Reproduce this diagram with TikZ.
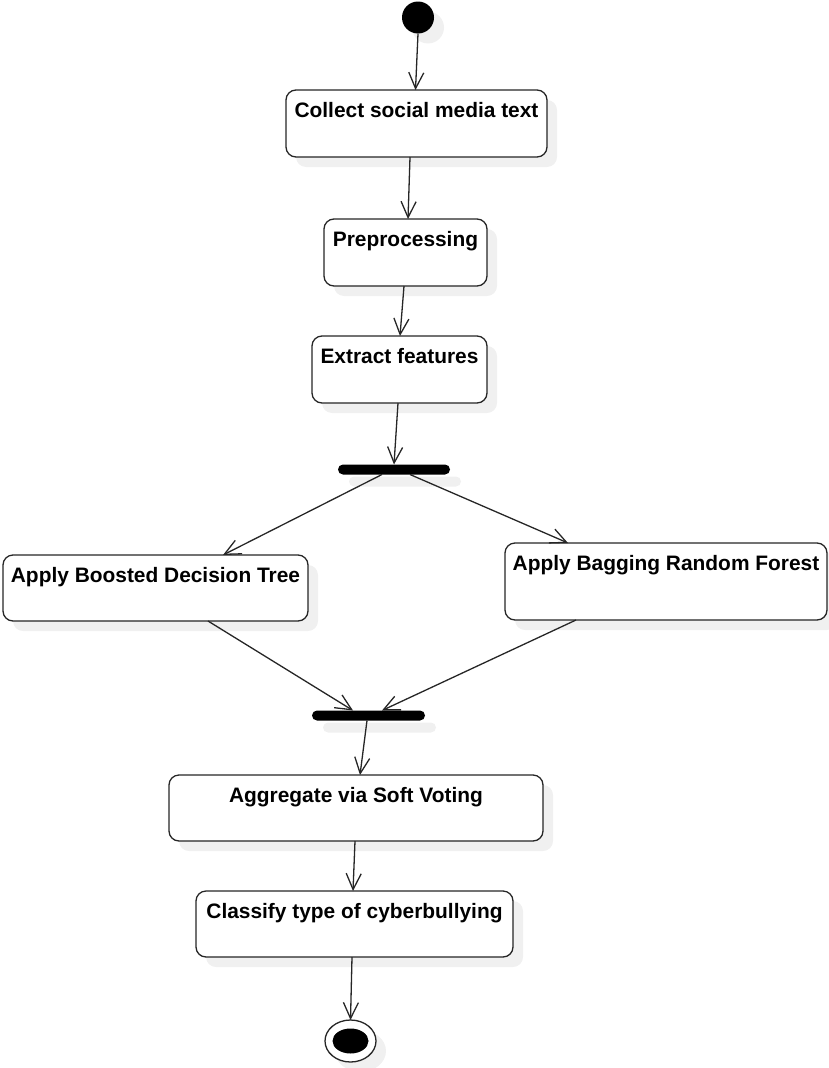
\documentclass[tikz,border=0pt]{standalone}
\usepackage{fontspec}
\setmainfont{Liberation Sans}
\usetikzlibrary{arrows.meta,shadows,shapes.geometric}
\begin{document}
\begin{tikzpicture}[x=1pt,y=-1pt,
  line width=1.3pt,
  softshadow/.style={drop shadow={shadow xshift=10pt,shadow yshift=-10pt,fill=black!6,opacity=1}},
  action/.style={draw=black!85, fill=white, rounded corners=10pt,
    inner xsep=0pt, inner ysep=0pt, outer sep=0pt, text height=27pt,
    font=\fontsize{20.9}{24}\selectfont\bfseries, softshadow},
  bar/.style={fill=black, rounded corners=5pt, minimum height=10pt,
    inner sep=0pt, outer sep=0pt,
    drop shadow={shadow xshift=11pt,shadow yshift=-12pt,fill=black!6,opacity=1}},
  flow/.style={draw=black!85, -{Straight Barb[length=16pt,width=15pt]}}
]
\useasboundingbox (0,0) rectangle (828,1068);

% initial and final states
\node[circle, fill=black, minimum size=32pt, inner sep=0pt, outer sep=0pt, softshadow] (start) at (418,17.5) {};
\node[ellipse, draw=black!85, fill=white, minimum width=51pt, minimum height=42pt,
      inner sep=0pt, outer sep=0pt, softshadow] (final) at (350.5,1041) {};
\fill (final.center) ellipse [x radius=18, y radius=12.5];

% activities
\node[action, minimum width=261pt, text depth=40pt] (collect) at (416.5,123.5) {Collect social media text};
\node[action, minimum width=163pt, text depth=40pt] (prep) at (405.5,252.5) {Preprocessing};
\node[action, minimum width=175pt, text depth=40pt] (feat) at (399.5,369.5) {Extract features};
\node[action, minimum width=305pt, text depth=39pt] (boost) at (155.5,588) {Apply Boosted Decision Tree};
\node[action, minimum width=322pt, text depth=50pt] (bag) at (666,581.5) {Apply Bagging Random Forest};
\node[action, minimum width=374pt, text depth=39pt] (vote) at (356,808) {Aggregate via Soft Voting};
\node[action, minimum width=317pt, text depth=39pt] (cls) at (354.5,924) {Classify type of cyberbullying};

% fork and join bars
\node[bar, minimum width=112pt] (fork) at (394,469.5) {};
\node[bar, minimum width=113pt] (join) at (368.5,715.5) {};

% control flow
\draw[flow] (start.south) -- ([xshift=-1pt]collect.north);
\draw[flow] ([xshift=-6.5pt]collect.south) -- ([xshift=2.5pt]prep.north);
\draw[flow] ([xshift=-1.5pt]prep.south) -- ([xshift=0.5pt]feat.north);
\draw[flow] ([xshift=-1.5pt]feat.south) -- (fork.north);
\draw[flow] ([xshift=-12pt]fork.south) -- ([xshift=67.5pt]boost.north);
\draw[flow] ([xshift=16pt]fork.south) -- ([xshift=-98pt]bag.north);
\draw[flow] ([xshift=52.5pt]boost.south) -- ([xshift=-15.5pt]join.north);
\draw[flow] ([xshift=-90pt]bag.south) -- ([xshift=13.5pt]join.north);
\draw[flow] ([xshift=-1.5pt]join.south) -- ([xshift=4pt]vote.north);
\draw[flow] ([xshift=-1pt]vote.south) -- ([xshift=-1.5pt]cls.north);
\draw[flow] ([xshift=-2.5pt]cls.south) -- (final.north);
\end{tikzpicture}
\end{document}
